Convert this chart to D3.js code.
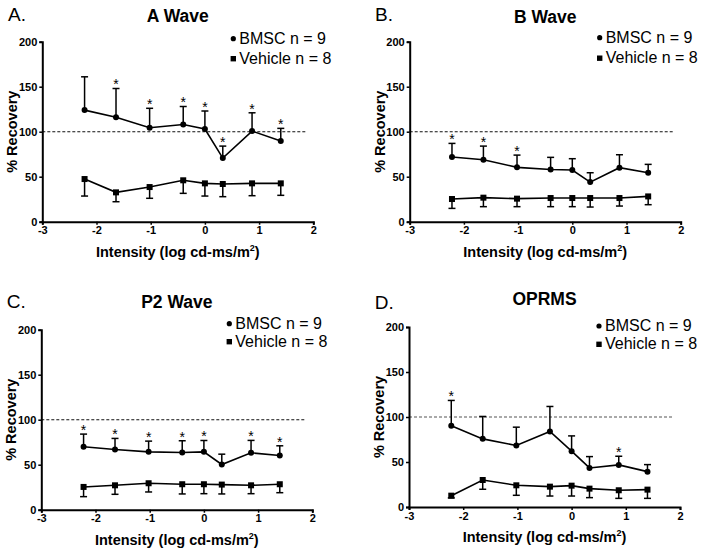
<!DOCTYPE html>
<html><head><meta charset="utf-8">
<script src="https://cdn.jsdelivr.net/npm/d3@7"></script>
<style>body{margin:0;background:#fff}svg{display:block}text{font-family:Arial,"Liberation Sans",sans-serif}</style>
</head><body><svg id="c" width="704" height="553"></svg>
<script>
const intensities = [-2.22, -1.64, -1.02, -0.40, 0.0, 0.33, 0.87, 1.40];
const xTicks = [-3, -2, -1, 0, 1, 2];
const yTicks = [0, 50, 100, 150, 200];
const panelNames = ["A Wave", "B Wave", "P2 Wave", "OPRMS"];
const panelLetters = ["A.", "B.", "C.", "D."];
const legendLabels = ["BMSC n = 9", "Vehicle n = 8"];

const bmscA = [124, 116, 104.4, 108, 103, 70.7, 100.7, 89.6];
const bmscSemA = [37, 32, 21.6, 20, 20, 13.3, 20.3, 14.1];
const vehA = [47.4, 32.6, 38.5, 46, 42.6, 41.9, 42.6, 42.6];
const vehSemA = [18.9, 10.4, 12.5, 14.5, 14.1, 14.1, 13.7, 13.3];
const starsA = [1, 2, 3, 4, 5, 6, 7];

const bmscB = [71.9, 68.9, 60.4, 58, 57.4, 44, 60, 54.4];
const bmscSemB = [15.1, 15.1, 13.6, 13.5, 12.6, 10.4, 14.4, 9.3];
const vehB = [25.2, 26.7, 25.6, 26.3, 26.3, 26.3, 26.3, 28.1];
const vehSemB = [10.4, 10, 8.9, 9.6, 9.6, 10, 8.9, 9.2];
const starsB = [0, 1, 2];

const bmscC = [69.9, 66.9, 64.3, 63.6, 64.3, 50.2, 63.2, 60.2];
const bmscSemC = [14.1, 12.3, 11.9, 13, 12.6, 11.5, 13.8, 10.8];
const vehC = [25.3, 27.1, 29.4, 28.3, 28.3, 27.9, 27.1, 28.3];
const vehSemC = [10.8, 10, 9.7, 10.8, 10.5, 10.4, 9.3, 9.4];
const starsC = [0, 1, 2, 3, 4, 6, 7];

const bmscD = [90.2, 75.7, 68.3, 83.9, 62, 43.4, 46.8, 39.3];
const bmscSemD = [28.2, 24.9, 20.4, 27.8, 17, 12.6, 9.6, 7.8];
const vehD = [12.6, 30, 24.1, 22.6, 23.7, 20.4, 18.6, 19.3];
const vehSemD = [2.5, 10.3, 11.1, 10.4, 11.5, 10, 9, 9.7];
const starsD = [0, 6];

const panels = [
  {bm: bmscA, bs: bmscSemA, vm: vehA, vs: vehSemA, stars: starsA,
   left: 42.3, top: 41.7, lx: 8, ly: 20.7, ty: -20, legX: 191, legY: [2, 22]},
  {bm: bmscB, bs: bmscSemB, vm: vehB, vs: vehSemB, stars: starsB,
   left: 409.7, top: 41.7, lx: 375, ly: 20.7, ty: -19, legX: 190, legY: [1, 21.5]},
  {bm: bmscC, bs: bmscSemC, vm: vehC, vs: vehSemC, stars: starsC,
   left: 41.3, top: 329.7, lx: 6.7, ly: 307.7, ty: -22, legX: 188, legY: [-1, 17]},
  {bm: bmscD, bs: bmscSemD, vm: vehD, vs: vehSemD, stars: starsD,
   left: 409, top: 327, lx: 374.7, ly: 309.3, ty: -21.7, legX: 190, legY: [4, 22.3]}
];

const W = 271, H = 180;
const svg = d3.select("#c");

panels.forEach((p, i) => {
  const g = svg.append("g").attr("transform", `translate(${p.left},${p.top})`);
  const x = d3.scaleLinear().domain([-3, 2]).range([0, W]);
  const y = d3.scaleLinear().domain([0, 200]).range([H, 0]);

  g.append("line").attr("x1", x(-3)).attr("x2", x(1.86)).attr("y1", y(100)).attr("y2", y(100))
    .attr("stroke", i === 3 ? "#555" : "#111").attr("stroke-width", 1.1).attr("stroke-dasharray", "3,2");

  const ya = g.append("g").call(d3.axisLeft(y).tickValues(yTicks).tickSize(3).tickPadding(2));
  const xa = g.append("g").attr("transform", `translate(0,${H})`)
    .call(d3.axisBottom(x).tickValues(xTicks).tickSize(3).tickPadding(2).tickFormat(d3.format("d")));
  [ya, xa].forEach(a => {
    a.select(".domain").attr("stroke", "#000").attr("stroke-width", 2);
    a.selectAll(".tick line").attr("stroke", "#000").attr("stroke-width", 1.5);
    a.selectAll(".tick text").attr("fill", "#000").attr("font-size", 11).attr("font-weight", "bold")
      .attr("font-family", "Arial, 'Liberation Sans', sans-serif");
  });
  xa.selectAll(".tick text").text(d => d < 0 ? "-" + Math.abs(d) : d);

  const cap = 3.5;
  const drawErr = (means, sems, dir) => {
    const eg = g.append("g").attr("stroke", "#000").attr("stroke-width", 1.5);
    means.forEach((m, k) => {
      const y2 = m + dir * sems[k];
      eg.append("line").attr("x1", x(intensities[k])).attr("x2", x(intensities[k]))
        .attr("y1", y(m)).attr("y2", y(y2));
      eg.append("line").attr("x1", x(intensities[k]) - cap).attr("x2", x(intensities[k]) + cap)
        .attr("y1", y(y2)).attr("y2", y(y2));
    });
  };
  drawErr(p.bm, p.bs, 1);
  drawErr(p.vm, p.vs, -1);

  const line = d3.line().x((d, k) => x(intensities[k])).y(d => y(d));
  g.append("path").datum(p.bm).attr("d", line).attr("fill", "none").attr("stroke", "#000").attr("stroke-width", 1.6);
  g.append("path").datum(p.vm).attr("d", line).attr("fill", "none").attr("stroke", "#000").attr("stroke-width", 1.6);

  g.selectAll(".dot").data(p.bm).enter().append("circle")
    .attr("cx", (d, k) => x(intensities[k])).attr("cy", d => y(d)).attr("r", 3).attr("fill", "#000");
  g.selectAll(".sq").data(p.vm).enter().append("rect")
    .attr("x", (d, k) => x(intensities[k]) - 3).attr("y", d => y(d) - 3)
    .attr("width", 6).attr("height", 6).attr("fill", "#000");

  p.stars.forEach(k => {
    g.append("text").attr("x", x(intensities[k])).attr("y", y(p.bm[k] + p.bs[k]) + 1)
      .attr("text-anchor", "middle").attr("font-size", 14).attr("fill", "#000").text("*");
  });

  g.append("text").attr("x", W / 2).attr("y", p.ty).attr("text-anchor", "middle")
    .attr("font-size", 17.5).attr("font-weight", "bold").text(panelNames[i]);

  g.append("text").attr("transform", `translate(-30,${H / 2}) rotate(-90)`)
    .attr("text-anchor", "middle").attr("dy", "0.35em").attr("font-size", 14.5).attr("font-weight", "bold")
    .text("% Recovery");
  const xt = g.append("text").attr("x", W / 2).attr("y", H + 35).attr("text-anchor", "middle")
    .attr("font-size", 14.5).attr("font-weight", "bold");
  xt.append("tspan").text("Intensity (log cd-ms/m");
  xt.append("tspan").attr("font-size", 9).attr("dy", -6).text("2");
  xt.append("tspan").attr("dy", 6).text(")");

  legendLabels.forEach((lab, j) => {
    const ly = p.legY[j];
    if (j === 0) g.append("circle").attr("cx", p.legX).attr("cy", ly - 5).attr("r", 2.6).attr("fill", "#000");
    else g.append("rect").attr("x", p.legX - 2.7).attr("y", ly - 7.7).attr("width", 5.4).attr("height", 5.4).attr("fill", "#000");
    g.append("text").attr("x", p.legX + 6).attr("y", ly).attr("font-size", 16).text(lab);
  });

  svg.append("text").attr("x", p.lx).attr("y", p.ly).attr("font-size", 19).text(panelLetters[i]);
});
</script></body></html>
